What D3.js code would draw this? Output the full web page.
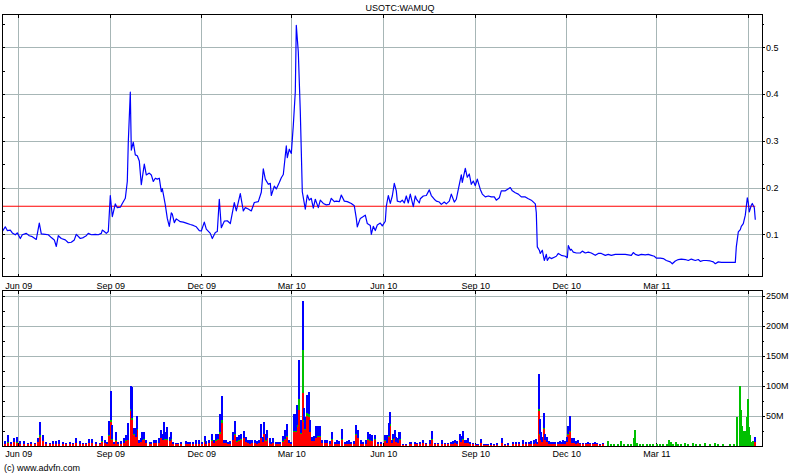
<!DOCTYPE html>
<html>
<head>
<meta charset="utf-8">
<script src="https://cdn.jsdelivr.net/npm/d3@7"></script>
<style>
  html, body { margin: 0; padding: 0; background: #fff; }
  svg { display: block; }
  text { font-family: "Liberation Sans", Arial, sans-serif; font-size: 9px; fill: #000; }
</style>
</head>
<body>
<svg id="chart" width="800" height="475"></svg>
<script>
// ---------------- DATA ----------------
const title = "USOTC:WAMUQ";
const copyright = "(c) www.advfn.com";

const gridDates = ["2009-06-01","2009-09-01","2009-12-01","2010-03-01","2010-06-01","2010-09-01","2010-12-01","2011-03-01","2011-06-01"];
const gridLabels = ["Jun 09","Sep 09","Dec 09","Mar 10","Jun 10","Sep 10","Dec 10","Mar 11",""];

const priceTicks = [0.1, 0.2, 0.3, 0.4, 0.5];
const priceMinorTicks = [0.05, 0.15, 0.25, 0.35, 0.45, 0.55];
const volumeTicks = [50, 100, 150, 200, 250];
const volumeMinorTicks = [25, 75, 125, 175, 225];
const referenceLevel = 0.16;

const priceDates = [
"2009-05-16","2009-05-19","2009-05-21","2009-05-24","2009-05-26","2009-05-29","2009-05-31","2009-06-03","2009-06-05","2009-06-09",
"2009-06-12","2009-06-15","2009-06-19","2009-06-22","2009-06-24","2009-06-28","2009-07-01","2009-07-04","2009-07-07","2009-07-09",
"2009-07-11","2009-07-14","2009-07-18","2009-07-21","2009-07-24","2009-07-27","2009-07-29","2009-08-02","2009-08-05","2009-08-08",
"2009-08-10","2009-08-13","2009-08-17","2009-08-20","2009-08-23","2009-08-24","2009-08-26","2009-08-28","2009-08-30","2009-09-01",
"2009-09-03","2009-09-06","2009-09-08","2009-09-11","2009-09-13","2009-09-16","2009-09-18","2009-09-19","2009-09-21","2009-09-22",
"2009-09-24","2009-09-26","2009-09-28","2009-09-30","2009-10-02","2009-10-05","2009-10-07","2009-10-10","2009-10-12","2009-10-14",
"2009-10-16","2009-10-18","2009-10-20","2009-10-22","2009-10-23","2009-10-26","2009-10-28","2009-10-30","2009-11-01","2009-11-02",
"2009-11-04","2009-11-06","2009-11-10","2009-11-13","2009-11-16","2009-11-20","2009-11-23","2009-11-26","2009-11-29","2009-12-01",
"2009-12-04","2009-12-06","2009-12-10","2009-12-12","2009-12-15","2009-12-17","2009-12-19","2009-12-21","2009-12-24","2009-12-27",
"2009-12-30","2010-01-03","2010-01-05","2010-01-09","2010-01-12","2010-01-14","2010-01-17","2010-01-20","2010-01-23","2010-01-27",
"2010-01-30","2010-02-01","2010-02-03","2010-02-06","2010-02-08","2010-02-09","2010-02-12","2010-02-14","2010-02-17","2010-02-19",
"2010-02-21","2010-02-24","2010-02-25","2010-02-27","2010-03-01","2010-03-03","2010-03-05","2010-03-06","2010-03-08","2010-03-10",
"2010-03-11","2010-03-12","2010-03-14","2010-03-15","2010-03-17","2010-03-19","2010-03-21","2010-03-23","2010-03-25","2010-03-28",
"2010-03-30","2010-04-02","2010-04-05","2010-04-08","2010-04-10","2010-04-13","2010-04-15","2010-04-18","2010-04-20","2010-04-23",
"2010-04-26","2010-04-30","2010-05-03","2010-05-05","2010-05-06","2010-05-09","2010-05-12","2010-05-14","2010-05-16","2010-05-19",
"2010-05-20","2010-05-22","2010-05-24","2010-05-26","2010-05-29","2010-05-31","2010-06-03","2010-06-04","2010-06-06","2010-06-08",
"2010-06-10","2010-06-12","2010-06-14","2010-06-15","2010-06-18","2010-06-20","2010-06-22","2010-06-24","2010-06-26","2010-06-28",
"2010-07-01","2010-07-03","2010-07-04","2010-07-07","2010-07-08","2010-07-11","2010-07-14","2010-07-17","2010-07-19","2010-07-22",
"2010-07-24","2010-07-27","2010-07-29","2010-08-01","2010-08-03","2010-08-06","2010-08-08","2010-08-11","2010-08-13","2010-08-15",
"2010-08-18","2010-08-19","2010-08-22","2010-08-24","2010-08-26","2010-08-28","2010-08-30","2010-09-01","2010-09-03","2010-09-06",
"2010-09-08","2010-09-11","2010-09-14","2010-09-17","2010-09-20","2010-09-22","2010-09-25","2010-09-27","2010-10-01","2010-10-03",
"2010-10-06","2010-10-08","2010-10-11","2010-10-14","2010-10-17","2010-10-21","2010-10-24","2010-10-27","2010-10-31","2010-11-01",
"2010-11-02","2010-11-04","2010-11-05","2010-11-07","2010-11-09","2010-11-11","2010-11-12","2010-11-14","2010-11-16","2010-11-19",
"2010-11-21","2010-11-23","2010-11-26","2010-11-30","2010-12-02","2010-12-03","2010-12-05","2010-12-06","2010-12-08","2010-12-11",
"2010-12-15","2010-12-17","2010-12-20","2010-12-23","2010-12-26","2010-12-30","2011-01-02","2011-01-05","2011-01-09","2011-01-12",
"2011-01-15","2011-01-19","2011-01-22","2011-01-25","2011-01-29","2011-02-01","2011-02-04","2011-02-06","2011-02-08","2011-02-11",
"2011-02-14","2011-02-18","2011-02-21","2011-02-24","2011-02-27","2011-03-01","2011-03-05","2011-03-08","2011-03-11","2011-03-15",
"2011-03-17","2011-03-20","2011-03-23","2011-03-26","2011-03-30","2011-04-02","2011-04-05","2011-04-09","2011-04-12","2011-04-14",
"2011-04-17","2011-04-20","2011-04-24","2011-04-27","2011-04-29","2011-05-02","2011-05-05","2011-05-09","2011-05-12","2011-05-15",
"2011-05-19","2011-05-20","2011-05-22","2011-05-24","2011-05-25","2011-05-27","2011-05-29","2011-05-31","2011-06-01","2011-06-02",
"2011-06-04","2011-06-05","2011-06-07","2011-06-08"
];
const priceValues = [
.106,.116,.108,.109,.103,.099,.103,.091,.099,.102,
.097,.095,.089,.124,.101,.100,.099,.093,.088,.074,
.097,.091,.088,.082,.083,.088,.100,.091,.093,.097,
.102,.099,.100,.099,.102,.109,.106,.102,.106,.183,
.138,.165,.157,.158,.166,.177,.213,.298,.404,.280,
.297,.270,.268,.257,.206,.250,.227,.231,.227,.213,
.220,.218,.220,.191,.198,.163,.134,.117,.146,.143,
.125,.133,.127,.126,.124,.121,.119,.116,.108,.107,
.126,.111,.102,.091,.104,.106,.175,.114,.128,.129,
.123,.168,.150,.187,.150,.157,.154,.150,.168,.170,
.190,.240,.218,.207,.209,.183,.203,.197,.211,.221,
.228,.289,.264,.282,.273,.333,.405,.547,.490,.362,
.277,.191,.166,.154,.184,.173,.177,.156,.175,.157,
.173,.166,.163,.164,.177,.170,.171,.170,.184,.171,
.170,.166,.161,.134,.116,.134,.138,.141,.123,.119,
.100,.117,.108,.120,.124,.118,.128,.160,.183,.166,
.182,.209,.193,.171,.169,.173,.167,.182,.167,.186,
.159,.182,.176,.167,.176,.182,.183,.195,.183,.175,
.171,.169,.164,.169,.165,.171,.186,.169,.175,.196,
.227,.211,.241,.222,.229,.207,.214,.204,.218,.196,
.186,.180,.182,.180,.180,.173,.178,.193,.193,.196,
.200,.193,.189,.186,.180,.180,.176,.173,.165,.146,
.073,.066,.059,.066,.044,.057,.044,.051,.048,.051,
.053,.059,.055,.053,.050,.076,.066,.068,.062,.060,
.060,.064,.060,.062,.060,.055,.059,.059,.055,.057,
.055,.057,.057,.057,.057,.056,.055,.061,.057,.055,
.057,.056,.057,.055,.053,.049,.049,.048,.044,.041,
.037,.043,.046,.047,.046,.044,.047,.044,.046,.042,
.044,.044,.043,.041,.037,.041,.040,.040,.040,.040,
.040,.073,.105,.110,.117,.123,.141,.178,.167,.148,
.162,.166,.157,.131
];

// Volume (millions): red = sells, green = unknown, blue = buys (stacked)
const volDates = [
"2009-05-19","2009-05-22","2009-05-25","2009-05-28","2009-05-31","2009-06-03","2009-06-07","2009-06-11","2009-06-14","2009-06-18",
"2009-06-21","2009-06-23","2009-06-26","2009-06-29","2009-07-03","2009-07-06","2009-07-09","2009-07-12","2009-07-16","2009-07-19",
"2009-07-23","2009-07-26","2009-07-29","2009-08-02","2009-08-05","2009-08-08","2009-08-11","2009-08-14","2009-08-18","2009-08-22",
"2009-08-24","2009-08-27","2009-08-29","2009-08-31","2009-09-02","2009-09-03","2009-09-05","2009-09-07","2009-09-09","2009-09-12",
"2009-09-15","2009-09-17","2009-09-19","2009-09-22","2009-09-23","2009-09-25","2009-09-27","2009-09-28","2009-09-30","2009-10-02",
"2009-10-03","2009-10-05","2009-10-07","2009-10-11","2009-10-12","2009-10-15","2009-10-17","2009-10-20","2009-10-22","2009-10-24",
"2009-10-25","2009-10-26","2009-10-28","2009-10-31","2009-11-01","2009-11-03","2009-11-06","2009-11-08","2009-11-11","2009-11-16",
"2009-11-18","2009-11-20","2009-11-23","2009-11-26","2009-11-29","2009-12-02","2009-12-05","2009-12-06","2009-12-09","2009-12-12",
"2009-12-14","2009-12-16","2009-12-18","2009-12-20","2009-12-22","2009-12-24","2009-12-26","2009-12-28","2009-12-30","2010-01-02",
"2010-01-04","2010-01-06","2010-01-08","2010-01-10","2010-01-13","2010-01-15","2010-01-17","2010-01-19","2010-01-21","2010-01-24",
"2010-01-26","2010-01-28","2010-01-30","2010-02-01","2010-02-02","2010-02-04","2010-02-05","2010-02-08","2010-02-09","2010-02-11",
"2010-02-14","2010-02-16","2010-02-18","2010-02-21","2010-02-23","2010-02-25","2010-02-27","2010-03-01","2010-03-04","2010-03-06",
"2010-03-07","2010-03-09","2010-03-11","2010-03-13","2010-03-14","2010-03-15","2010-03-17","2010-03-19","2010-03-20","2010-03-22",
"2010-03-24","2010-03-26","2010-03-28","2010-03-30","2010-04-01","2010-04-04","2010-04-06","2010-04-09","2010-04-11","2010-04-14",
"2010-04-16","2010-04-18","2010-04-21","2010-04-24","2010-04-26","2010-04-28","2010-04-30","2010-05-03","2010-05-05","2010-05-07",
"2010-05-10","2010-05-12","2010-05-15","2010-05-17","2010-05-19","2010-05-21","2010-05-24","2010-05-27","2010-05-30","2010-06-03",
"2010-06-05","2010-06-07","2010-06-08","2010-06-10","2010-06-11","2010-06-13","2010-06-14","2010-06-16","2010-06-17","2010-06-18",
"2010-06-21","2010-06-24","2010-06-28","2010-06-29","2010-07-03","2010-07-05","2010-07-08","2010-07-11","2010-07-14","2010-07-18",
"2010-07-20","2010-07-23","2010-07-26","2010-07-30","2010-08-02","2010-08-05","2010-08-08","2010-08-10","2010-08-12","2010-08-14",
"2010-08-17","2010-08-18","2010-08-20","2010-08-22","2010-08-24","2010-08-25","2010-08-27","2010-08-30","2010-09-02","2010-09-04",
"2010-09-07","2010-09-10","2010-09-12","2010-09-14","2010-09-17","2010-09-20","2010-09-23","2010-09-28","2010-10-01","2010-10-04",
"2010-10-09","2010-10-12","2010-10-15","2010-10-19","2010-10-22","2010-10-25","2010-10-27","2010-10-30","2010-11-01","2010-11-02",
"2010-11-04","2010-11-05","2010-11-06","2010-11-07","2010-11-09","2010-11-10","2010-11-12","2010-11-14","2010-11-16","2010-11-18",
"2010-11-20","2010-11-23","2010-11-25","2010-11-26","2010-11-28","2010-11-30","2010-12-02","2010-12-03","2010-12-05","2010-12-07",
"2010-12-09","2010-12-11","2010-12-13","2010-12-15","2010-12-18","2010-12-21","2010-12-23","2010-12-25","2010-12-28","2010-12-30",
"2011-01-01","2011-01-04","2011-01-07","2011-01-12","2011-01-15","2011-01-18","2011-01-22","2011-01-25","2011-01-28","2011-02-01",
"2011-02-04","2011-02-07","2011-02-08","2011-02-10","2011-02-13","2011-02-16","2011-02-20","2011-02-23","2011-02-26","2011-03-02",
"2011-03-05","2011-03-08","2011-03-12","2011-03-14","2011-03-16","2011-03-18","2011-03-21","2011-03-23","2011-03-26","2011-03-30",
"2011-04-02","2011-04-07","2011-04-10","2011-04-14","2011-04-19","2011-04-24","2011-04-29","2011-05-02","2011-05-07","2011-05-14",
"2011-05-18","2011-05-21","2011-05-24","2011-05-25","2011-05-26","2011-05-28","2011-05-29","2011-05-31","2011-06-01","2011-06-02",
"2011-06-03","2011-06-05","2011-06-06","2011-06-08"
];
const volRed = [
3,5,2,6,5,3,3,2,2,2,
6,15,7,2,2,3,3,3,2,2,
2,2,4,3,2,2,5,5,2,2,
6,4,2,16,40,10,2,8,2,3,
5,8,9,57,43,18,14,26,4,6,
9,10,4,2,2,4,4,5,12,9,
19,10,10,8,10,2,2,2,2,3,
2,2,2,3,3,2,6,3,4,8,
4,8,10,19,37,4,4,2,3,9,
18,6,8,10,12,6,4,3,4,4,
3,4,12,6,19,8,12,5,2,5,
2,2,2,6,10,15,4,2,22,22,
31,60,20,87,40,26,49,48,22,7,
7,12,15,15,4,4,4,3,10,2,
3,3,10,2,3,3,2,3,18,12,
3,2,3,10,8,8,10,2,2,8,
5,15,32,4,10,12,6,5,10,10,
1,1,2,2,2,2,2,4,2,3,
10,2,2,3,2,2,2,3,4,3,
9,6,10,4,4,5,2,2,1,1,
5,1,1,1,1,1,1,5,1,1,
2,2,2,3,2,2,3,3,4,2,
57,18,9,6,27,9,6,3,2,2,
2,2,3,2,3,3,6,18,23,5,
5,3,4,2,2,2,2,2,2,2,
2,1,2,0,0,0,0,0,0,0,
0,0,0,0,0,0,0,0,0,0,
0,0,0,0,0,0,0,0,0,0,
0,0,0,0,0,0,0,0,0,0,
0,0,0,0,0,0,0,0,0,0,
0,0,0,6
];
const volGreen = [
0,1,0,0,1,0,0,0,0,0,
0,3,1,0,0,0,0,0,0,0,
0,0,0,0,0,0,0,0,0,0,
1,0,0,2,3,1,0,1,0,0,
0,1,1,4,3,1,1,1,0,0,
1,1,0,0,0,0,0,0,1,1,
1,1,1,0,1,0,0,0,0,0,
0,0,0,0,0,0,1,0,0,1,
0,1,1,3,5,0,0,0,0,1,
1,1,1,1,1,0,0,0,0,0,
0,0,1,0,1,1,1,0,0,0,
0,0,0,1,1,1,0,0,2,2,
4,18,1,73,2,1,5,4,1,0,
1,1,1,1,0,0,0,0,1,0,
0,0,1,0,0,0,0,0,1,1,
0,0,0,1,1,0,1,0,0,1,
0,1,4,0,1,1,0,0,1,1,
0,0,0,0,0,0,0,0,0,0,
1,0,0,0,0,0,0,0,0,0,
1,0,1,0,0,0,0,0,0,0,
0,0,0,0,0,0,0,0,0,0,
0,0,0,0,0,0,0,0,0,0,
4,1,1,0,3,1,0,0,0,0,
0,0,0,0,0,0,0,1,2,0,
0,0,0,0,0,0,0,0,0,0,
0,0,0,8,3,3,3,7,3,3,
3,12,26,5,3,3,3,3,3,3,
3,3,3,10,6,3,6,3,3,5,
3,5,3,3,5,3,5,3,2,2,
2,47,100,59,33,25,25,47,77,31,
18,6,8,0
];
const volBlue = [
5,12,4,6,9,5,4,3,4,3,
6,21,10,4,3,4,5,6,4,3,
4,3,8,4,3,3,6,6,4,3,
9,6,4,23,48,24,4,13,4,5,
7,9,27,39,52,10,14,23,6,6,
13,11,5,4,4,5,5,7,13,9,
20,12,20,7,11,4,3,3,4,5,
4,4,4,6,6,4,9,5,6,11,
6,10,8,31,40,6,5,4,5,12,
22,8,9,9,11,9,6,6,6,6,
5,6,23,9,19,10,13,7,4,7,
4,4,4,9,15,20,6,4,29,29,
32,65,22,81,21,21,30,37,20,8,
8,20,16,17,5,6,6,5,11,4,
6,5,17,4,5,6,4,5,16,13,
6,4,6,11,10,10,7,4,4,9,
13,21,20,6,9,13,9,8,11,12,
2,2,4,4,4,3,4,6,3,6,
13,3,3,6,3,3,4,5,6,5,
9,10,13,6,6,7,4,3,2,2,
6,2,2,2,3,2,3,8,2,3,
4,4,4,6,4,4,5,6,7,4,
59,25,13,9,25,9,9,5,4,4,
4,4,5,4,6,5,9,13,25,8,
8,5,6,3,3,3,4,3,3,4,
3,2,3,0,0,0,0,0,0,0,
0,0,0,0,0,0,0,0,0,0,
0,0,0,0,0,0,0,0,0,0,
0,0,0,0,0,0,0,0,0,0,
0,0,0,0,0,0,0,0,0,0,
0,0,0,9
];

// ---------------- CHART ----------------
const parse = d3.timeParse("%Y-%m-%d");
const svg = d3.select("#chart");

const L = 2.5, R = 762;
const P = { top: 14.5, bottom: 276.5 };   // price panel
const V = { top: 290.5, bottom: 446 };    // volume panel

const x = d3.scaleTime()
  .domain([parse("2009-05-16"), parse("2011-06-15")])
  .range([2.3, 762.3]);

const yP = d3.scaleLinear().domain([0.0108, 0.5713]).range([276, 14]);
const yV = d3.scaleLinear().domain([0, 260]).range([445.5, 290]);

const gridColor = "#a7b6b6";
const grids = gridDates.map(parse);

function panel(top, bottom, yScale, majors, minors, fmt, labelY) {
  const g = svg.append("g");
  // horizontal gridlines
  g.append("g").attr("transform", `translate(${L},0)`)
    .call(d3.axisRight(yScale).tickValues(majors).tickSize(R - L).tickFormat(""))
    .call(s => s.select(".domain").remove())
    .call(s => s.selectAll("line").attr("stroke", gridColor).attr("shape-rendering", "crispEdges"));
  // vertical gridlines
  g.append("g").attr("transform", `translate(0,${top})`)
    .call(d3.axisBottom(x).tickValues(grids).tickSize(bottom - top).tickFormat(""))
    .call(s => s.select(".domain").remove())
    .call(s => s.selectAll("line").attr("stroke", gridColor).attr("shape-rendering", "crispEdges"));
  // small black ticks at top & bottom for month gridlines
  g.append("g").attr("transform", `translate(0,${top})`)
    .call(d3.axisBottom(x).tickValues(grids).tickSize(3).tickFormat(""))
    .call(s => s.select(".domain").remove())
    .call(s => s.selectAll("line").attr("stroke", "#000").attr("shape-rendering", "crispEdges"));
  g.append("g").attr("transform", `translate(0,${bottom})`)
    .call(d3.axisTop(x).tickValues(grids).tickSize(3).tickFormat(""))
    .call(s => s.select(".domain").remove())
    .call(s => s.selectAll("line").attr("stroke", "#000").attr("shape-rendering", "crispEdges"));
  // left inward ticks
  g.append("g").attr("transform", `translate(${L},0)`)
    .call(d3.axisRight(yScale).tickValues(majors.concat(minors)).tickSize(2).tickFormat(""))
    .call(s => s.select(".domain").remove())
    .call(s => s.selectAll("line").attr("stroke", "#000").attr("shape-rendering", "crispEdges"));
  // right axis labels
  g.append("g").attr("transform", `translate(${R},0)`)
    .call(d3.axisRight(yScale).tickValues(majors).tickSize(3).tickPadding(1).tickFormat(fmt))
    .call(s => s.select(".domain").remove())
    .call(s => s.selectAll("line").attr("stroke", "#000").attr("shape-rendering", "crispEdges"))
    .call(s => s.selectAll("text").attr("font-family", null).attr("font-size", null).attr("fill", "#000"));
  g.append("g").attr("transform", `translate(${R},0)`)
    .call(d3.axisRight(yScale).tickValues(minors).tickSize(2).tickFormat(""))
    .call(s => s.select(".domain").remove())
    .call(s => s.selectAll("line").attr("stroke", "#000").attr("shape-rendering", "crispEdges"));
  // month labels
  g.append("g").attr("transform", `translate(0,${labelY})`)
    .call(d3.axisBottom(x).tickValues(grids).tickSize(0).tickPadding(0)
      .tickFormat((d, i) => gridLabels[i]))
    .call(s => s.select(".domain").remove())
    .call(s => s.selectAll("text").attr("font-family", null).attr("font-size", null)
      .attr("fill", "#000").attr("dy", null).attr("y", 0));
  return g;
}

panel(P.top, P.bottom, yP, priceTicks, priceMinorTicks, d3.format(".1f"), 288.5);
panel(V.top, V.bottom, yV, volumeTicks, volumeMinorTicks, d => d + "M", 457);

// clip paths
svg.append("clipPath").attr("id", "clipP").append("rect")
  .attr("x", L).attr("y", P.top).attr("width", R - L).attr("height", P.bottom - P.top);
svg.append("clipPath").attr("id", "clipV").append("rect")
  .attr("x", L).attr("y", V.top).attr("width", R - L).attr("height", V.bottom - V.top);

// volume bars
const vol = volDates.map((d, i) => ({ date: parse(d), r: volRed[i], g: volGreen[i], b: volBlue[i] }));
const vg = svg.append("g").attr("clip-path", "url(#clipV)").attr("shape-rendering", "crispEdges");
const segs = [
  { key: "r", base: d => 0, color: "#ff0000" },
  { key: "g", base: d => d.r, color: "#00c000" },
  { key: "b", base: d => d.r + d.g, color: "#0000ff" }
];
segs.forEach(s => {
  vg.selectAll(null).data(vol.filter(d => d[s.key] > 0)).enter().append("rect")
    .attr("x", d => Math.round(x(d.date)) - 1)
    .attr("width", 2)
    .attr("y", d => yV(s.base(d) + d[s.key]))
    .attr("height", d => yV(s.base(d)) - yV(s.base(d) + d[s.key]))
    .attr("fill", s.color);
});

// reference line
const price = priceDates.map((d, i) => ({ date: parse(d), v: priceValues[i] }));
svg.append("line")
  .attr("x1", L).attr("x2", x(price[price.length - 1].date))
  .attr("y1", yP(referenceLevel)).attr("y2", yP(referenceLevel))
  .attr("stroke", "#ff0000").attr("stroke-width", 1.2);

// price line
svg.append("path")
  .datum(price)
  .attr("clip-path", "url(#clipP)")
  .attr("fill", "none")
  .attr("stroke", "#0000ff")
  .attr("stroke-width", 1.2)
  .attr("stroke-linejoin", "round")
  .attr("d", d3.line().x(d => x(d.date)).y(d => yP(d.v)));

// frames
[[P.top, P.bottom], [V.top, V.bottom]].forEach(([t, b]) => {
  svg.append("rect").attr("x", L).attr("y", t).attr("width", R - L).attr("height", b - t)
    .attr("fill", "none").attr("stroke", "#000").attr("stroke-width", 1)
    .attr("shape-rendering", "crispEdges");
});

// title and footer
svg.append("text").attr("x", 400).attr("y", 11).attr("text-anchor", "middle").text(title);
svg.append("text").attr("x", 4).attr("y", 471).text(copyright);
</script>
</body>
</html>
